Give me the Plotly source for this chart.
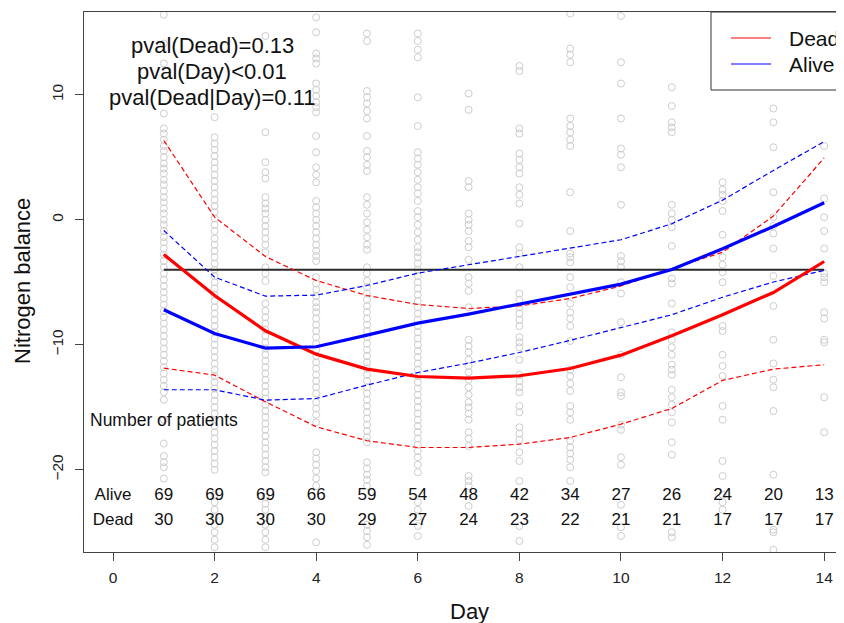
import plotly.graph_objects as go

# ---------------- data ----------------
days = [1, 2, 3, 4, 5, 6, 7, 8, 9, 10, 11, 12, 13, 14]

dead_mean = [-2.78, -6.06, -8.88, -10.75, -11.95, -12.54, -12.67, -12.48, -11.9, -10.83, -9.28, -7.6, -5.82, -3.34]
dead_upper = [6.34, 0.21, -2.94, -4.86, -6.06, -6.78, -7.1, -6.9, -6.3, -5.3, -3.9, -2.6, 0.3, 4.95]
dead_lower = [-11.87, -12.43, -14.56, -16.56, -17.68, -18.22, -18.22, -17.95, -17.42, -16.35, -15.1, -12.85, -11.95, -11.6]

alive_mean = [-7.2, -9.1, -10.27, -10.16, -9.23, -8.27, -7.55, -6.75, -5.95, -5.15, -3.98, -2.32, -0.54, 1.36]
alive_upper = [-0.86, -4.59, -6.11, -6.03, -5.26, -4.27, -3.6, -2.95, -2.3, -1.6, -0.32, 1.57, 3.94, 6.26]
alive_lower = [-13.6, -13.6, -14.43, -14.3, -13.23, -12.22, -11.47, -10.62, -9.65, -8.62, -7.6, -6.2, -4.98, -4.05]

ref_value = -4

alive_counts = [69, 69, 69, 66, 59, 54, 48, 42, 34, 27, 26, 24, 20, 13]
dead_counts = [30, 30, 30, 30, 29, 27, 24, 23, 22, 21, 21, 17, 17, 17]

day1_pts = [16.4, 14.1, 12.5, 8.5, 7.3, 6.9, 6.4, 5.9, 5.5, 5.0, 4.5, 4.1, 3.7, 3.2, 2.8, 2.3, 1.8, 1.4, 0.9,
            0.5, 0.0, -0.4, -0.9, -1.4, -1.8, -2.3, -2.8, -3.3, -3.8, -4.3, -4.8, -5.3, -5.8, -6.3, -6.8,
            -7.3, -7.8, -8.3, -8.8, -9.3, -9.8, -10.3, -10.8, -11.3, -11.8, -12.3, -12.8, -13.3, -13.8,
            -14.4, -16.0, -17.9, -18.9, -19.4, -19.8, -20.7]
day2_pts = [8.2, 6.6, 6.1, 5.6, 5.1, 4.6, 4.1, 3.6, 3.1, 2.6, 2.1, 1.6, 1.1, 0.6, 0.1, -0.4, -0.9, -1.5, -2.0,
            -2.5, -3.0, -3.5, -4.0, -4.5, -5.0, -5.5, -6.0, -6.5, -7.0, -7.5, -8.0, -8.5, -9.0, -9.5, -10.0,
            -10.5, -11.0, -11.5, -12.0, -12.5, -13.0, -13.5, -14.0, -14.5, -15.0, -15.5, -16.0, -16.5, -17.0,
            -17.5, -18.0, -18.5, -19.0, -19.5, -20.0, -22.0, -22.6, -23.2, -23.8, -24.4, -25.0, -25.6, -26.2]
day3_pts = [14.7, 7.0, 4.6, 3.8, 3.3, 1.8, 1.3, 0.9, 0.5, 0.0, -0.5, -1.0, -1.5, -2.0, -2.6, -3.8, -4.3, -4.9,
            -6.7, -7.3, -7.8, -8.3, -8.8, -9.3, -9.8, -10.3, -10.8, -11.3, -11.8, -12.3, -12.8, -13.3, -13.8,
            -14.3, -14.8, -15.3, -15.8, -16.3, -16.8, -17.3, -17.8, -18.3, -18.8, -19.3, -19.8, -20.2, -22.2,
            -22.7, -23.2, -23.8, -24.4, -25.0, -25.6, -26.2]
day4_pts = [16.2, 15.0, 13.3, 12.9, 12.5, 10.9, 10.4, 9.9, 9.4, 9.0, 8.6, 6.7, 5.4, 4.2, 3.6, 3.0, 1.5, 1.0, 0.5,
            0.0, -0.5, -1.0, -1.5, -2.0, -2.5, -2.9, -3.3, -4.6, -5.1, -5.6, -6.1, -6.6, -7.0, -7.4, -7.9,
            -8.4, -8.9, -9.4, -9.9, -10.4, -10.9, -11.4, -11.9, -12.4, -12.9, -13.4, -13.9, -14.6, -15.1,
            -15.6, -16.2, -18.6, -19.1, -19.6, -20.1, -20.7, -21.3, -25.8]
day5_pts = [14.9, 14.3, 10.3, 9.8, 9.3, 8.7, 8.1, 6.7, 5.5, 5.0, 4.4, 3.9, 1.8, 1.2, 0.5, -0.2, -0.8, -1.4, -2.0,
            -2.4, -3.8, -4.3, -4.9, -5.4, -5.9, -6.4, -6.9, -7.4, -7.9, -8.4, -8.9, -9.4, -9.9, -10.4, -10.9,
            -11.4, -11.9, -12.4, -12.9, -13.4, -13.9, -14.4, -14.9, -15.4, -15.9, -16.4, -16.9, -17.4, -17.8,
            -19.4, -19.9, -20.4, -20.8, -21.3, -24.4, -24.9, -25.4, -26.0]
day6_pts = [14.9, 14.3, 13.6, 13.0, 9.8, 7.5, 5.4, 4.9, 4.4, 3.8, 3.2, 2.6, 2.1, 1.5, 0.7, 0.2, -0.4, -1.0, -1.6,
            -2.2, -2.6, -3.0, -3.5, -4.0, -4.5, -5.0, -5.5, -6.0, -6.5, -7.0, -7.5, -8.0, -8.5, -9.0, -9.5,
            -10.0, -10.5, -11.0, -11.5, -12.0, -12.5, -13.0, -13.5, -14.0, -14.5, -15.0, -15.5, -16.0, -16.5,
            -17.0, -17.5, -18.0, -18.5, -19.0, -19.6, -20.2, -22.6, -23.2, -23.8, -24.5, -25.3]
day7_pts = [10.1, 8.8, 3.1, 2.6, 0.5, 0.0, -0.4, -0.9, -1.7, -2.2, -3.2, -4.6, -5.1, -5.7, -7.0, -9.6, -10.1,
            -10.6, -11.2, -11.7, -12.2, -12.8, -13.4, -14.0, -14.6, -15.0, -15.5, -16.0, -17.0, -17.5, -18.1,
            -20.5, -20.9, -21.3, -22.9]
day8_pts = [12.3, 11.9, 7.3, 6.9, 5.3, 4.8, 4.2, 3.7, 2.6, 2.0, 1.3, -0.3, -2.2, -2.7, -3.8, -5.9, -6.4, -7.0,
            -7.5, -8.0, -8.5, -9.4, -9.8, -10.2, -11.2, -12.4, -12.9, -13.4, -13.8, -14.9, -15.4, -16.6, -17.1,
            -17.6, -18.6, -19.3, -20.9, -24.5, -25.7]
day9_pts = [16.5, 13.7, 13.2, 12.6, 8.1, 7.5, 7.0, 6.4, 5.9, 2.2, -0.9, -2.7, -3.0, -3.4, -4.6, -5.4, -6.7,
            -7.4, -7.9, -8.5, -9.7, -12.0, -12.5, -13.1, -13.7, -14.9, -15.4, -16.0, -17.7, -18.2, -18.7,
            -19.2, -19.8, -20.9]
day10_pts = [16.3, 12.6, 10.9, 8.1, 5.7, 5.2, 4.2, 1.2, -2.9, -3.3, -3.8, -5.0, -5.9, -8.2, -10.8, -12.6, -13.8,
             -14.1, -16.4, -16.8, -19.0, -19.6, -22.8, -24.6, -25.3]
day11_pts = [10.6, 9.1, 7.8, 7.4, 7.0, 1.2, 0.5, 0.0, -0.6, -2.1, -4.7, -5.1, -6.7, -9.0, -9.6, -10.2, -10.8,
             -11.6, -12.0, -12.4, -13.6, -14.2, -14.8, -15.4, -16.2, -17.8, -18.8, -25.0, -25.4]
day12_pts = [3.0, 2.4, 2.0, 1.5, 0.7, -1.2, -3.0, -3.6, -4.2, -5.0, -8.5, -8.9, -10.8, -11.7, -12.5, -14.9,
             -16.0, -19.3, -20.5, -22.0, -22.6, -23.2]
day13_pts = [8.9, 7.8, 5.8, 2.2, 0.2, -0.5, -1.1, -2.3, -4.5, -6.9, -9.6, -11.5, -12.8, -13.4, -15.3, -20.4,
             -24.8, -25.0, -26.4]
day14_pts = [5.9, 1.7, 0.2, -0.9, -2.3, -4.3, -4.6, -5.0, -7.4, -7.9, -9.6, -9.8, -14.2, -17.0]

point_columns = [day1_pts, day2_pts, day3_pts, day4_pts, day5_pts, day6_pts, day7_pts,
                 day8_pts, day9_pts, day10_pts, day11_pts, day12_pts, day13_pts, day14_pts]

x_ticks = [0, 2, 4, 6, 8, 10, 12, 14]
y_ticks = [-20, -10, 0, 10]

pval_lines = ["pval(Dead)=0.13", "pval(Day)<0.01", "pval(Dead|Day)=0.11"]

# ---------------- figure ----------------
FONT = "Liberation Sans, Arial, Helvetica, sans-serif"
RED = "#FF0000"
BLUE = "#0000FF"

# page body has an 8px margin: the figure is placed at (8, 8)
FIG_W, FIG_H = 836, 615
M_L, M_R, M_T, M_B = 76, 0, 4, 71
PLOT_W = FIG_W - M_L - M_R
PLOT_H = FIG_H - M_T - M_B


def px_to_paper_x(px):
    return (px - 8 - M_L) / PLOT_W


def px_to_paper_y(py):
    return (FIG_H - M_B - (py - 8)) / PLOT_H


fig = go.Figure()

for d, vals in zip(days, point_columns):
    fig.add_trace(go.Scatter(
        x=[d] * len(vals), y=vals, mode="markers",
        marker=dict(symbol="circle-open", size=7, color="#cdcdcd", line=dict(width=1, color="#cdcdcd")),
        showlegend=False, hoverinfo="skip"))

fig.add_trace(go.Scatter(x=[days[0], days[-1]], y=[ref_value, ref_value], mode="lines",
                         line=dict(color="#2a2a2a", width=2), showlegend=False))

for series, color, width, dash in [
    (dead_upper, RED, 1.2, "5px,3px"), (dead_lower, RED, 1.2, "5px,3px"),
    (alive_upper, BLUE, 1.2, "5px,3px"), (alive_lower, BLUE, 1.2, "5px,3px"),
    (dead_mean, RED, 3.2, "solid"), (alive_mean, BLUE, 3.2, "solid")]:
    fig.add_trace(go.Scatter(x=days, y=series, mode="lines",
                             line=dict(color=color, width=width, dash=dash),
                             showlegend=False))

# patient counts
fig.add_trace(go.Scatter(x=[0] + days, y=[-22.06] * 15, mode="text",
                         text=["Alive"] + [str(v) for v in alive_counts],
                         textfont=dict(family=FONT, size=17, color="#111"), showlegend=False))
fig.add_trace(go.Scatter(x=[0] + days, y=[-24.06] * 15, mode="text",
                         text=["Dead"] + [str(v) for v in dead_counts],
                         textfont=dict(family=FONT, size=17, color="#111"), showlegend=False))

annotations = []
annotations.append(dict(x=1, y=-16.0, xref="x", yref="y", text="Number of patients", showarrow=False,
                        font=dict(family=FONT, size=17.5, color="#111")))
for yv, t in zip([13.95, 11.88, 9.8], pval_lines):
    annotations.append(dict(x=1.95, y=yv, xref="x", yref="y", text=t, showarrow=False,
                            font=dict(family=FONT, size=22, color="#111")))
# axis titles
annotations.append(dict(x=px_to_paper_x(469), y=px_to_paper_y(611), xref="paper", yref="paper",
                        text="Day", showarrow=False, xanchor="center", yanchor="middle",
                        font=dict(family=FONT, size=22, color="#111")))
annotations.append(dict(x=px_to_paper_x(22), y=px_to_paper_y(281), xref="paper", yref="paper",
                        text="Nitrogen balance", showarrow=False, textangle=-90,
                        xanchor="center", yanchor="middle",
                        font=dict(family=FONT, size=22, color="#111")))
# manual legend
annotations.append(dict(x=px_to_paper_x(788), y=px_to_paper_y(38), xref="paper", yref="paper", text="Dead",
                        showarrow=False, xanchor="left", yanchor="middle", borderpad=0,
                        font=dict(family=FONT, size=21, color="#111")))
annotations.append(dict(x=px_to_paper_x(788), y=px_to_paper_y(64), xref="paper", yref="paper", text="Alive",
                        showarrow=False, xanchor="left", yanchor="middle", borderpad=0,
                        font=dict(family=FONT, size=21, color="#111")))

shapes = [
    dict(type="rect", xref="paper", yref="paper", x0=px_to_paper_x(711), x1=px_to_paper_x(870),
         y0=px_to_paper_y(90), y1=1.0,
         line=dict(color="#333", width=1), fillcolor="white", layer="above"),
    dict(type="line", xref="paper", yref="paper", x0=px_to_paper_x(731), x1=px_to_paper_x(771),
         y0=px_to_paper_y(38), y1=px_to_paper_y(38), line=dict(color=RED, width=1), layer="above"),
    dict(type="line", xref="paper", yref="paper", x0=px_to_paper_x(731), x1=px_to_paper_x(771),
         y0=px_to_paper_y(64), y1=px_to_paper_y(64), line=dict(color=BLUE, width=1), layer="above"),
]

fig.update_layout(
    width=FIG_W, height=FIG_H,
    margin=dict(l=M_L, r=M_R, t=M_T, b=M_B, pad=0),
    paper_bgcolor="white", plot_bgcolor="white",
    showlegend=False,
    annotations=annotations, shapes=shapes,
    font=dict(family=FONT, color="#111"),
    xaxis=dict(range=[-0.571, 14.39], tickvals=x_ticks, ticks="outside", ticklen=8, tickwidth=1,
               tickcolor="#444", showgrid=False, zeroline=False, showline=True, linecolor="#444",
               linewidth=1, mirror=True, ticklabelstandoff=3,
               tickfont=dict(family=FONT, size=15.5, color="#222")),
    yaxis=dict(range=[-26.58, 16.62], tickvals=y_ticks, ticks="outside", ticklen=8, tickwidth=1,
               tickcolor="#444", showgrid=False, zeroline=False, showline=True, linecolor="#444",
               linewidth=1, mirror=False, tickangle=-90, ticklabelstandoff=6,
               tickfont=dict(family=FONT, size=15.5, color="#222")),
)

fig.write_html("out.html")
